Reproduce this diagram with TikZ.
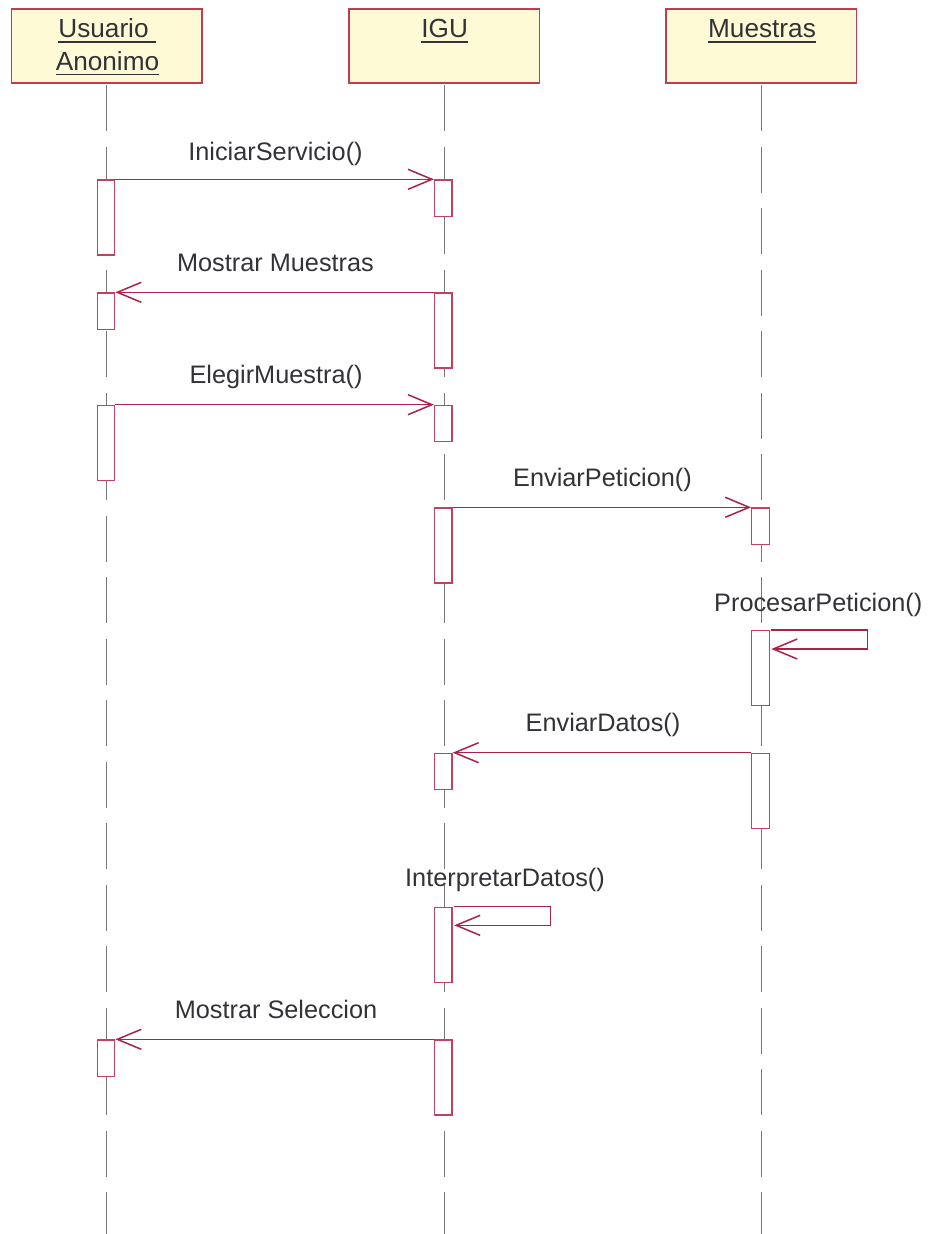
\documentclass[tikz,border=0pt]{standalone}
\usepackage{fontspec}
\setmainfont{Liberation Sans}
\usetikzlibrary{arrows.meta}
\definecolor{boxfill}{RGB}{255,250,214}
\definecolor{boxline}{RGB}{190,60,85}
\definecolor{msgcol}{RGB}{170,35,70}
\definecolor{actline}{RGB}{196,64,96}
\definecolor{lifecol}{RGB}{120,120,120}
\definecolor{textcol}{RGB}{50,50,55}
\begin{document}
\begin{tikzpicture}[x=1pt,y=-1pt,
  head/.style={draw=boxline, fill=boxfill, line width=1.3pt, minimum width=190.4pt, minimum height=74pt, inner sep=0pt, anchor=north west},
  lbl/.style={text=textcol, font=\fontsize{25.3}{30}\selectfont, inner sep=0pt, anchor=base},
  hlbl/.style={lbl, font=\fontsize{26.2}{30}\selectfont},
  lblw/.style={lbl, anchor=base west},
  act/.style={draw=actline, fill=white, line width=1.2pt, minimum width=17.5pt, inner sep=0pt, anchor=north},
  shortact/.style={act, minimum height=36.5pt},
  longact/.style={act, minimum height=75pt},
  msg/.style={draw=msgcol, line width=1.2pt, -{Straight Barb[length=24pt,width=20pt,line width=1.5pt]}},
  lifeline/.style={draw=lifecol, line width=1.3pt, dash pattern=on 46pt off 15.5pt},
  uline/.style={draw=textcol, line width=1.4pt}
]
\useasboundingbox (0,0) rectangle (933,1234);

% header boxes
\node[head] (h1) at (11,8.3) {};
\node[head] (h2) at (348.3,8.3) {};
\node[head] (h3) at (665.3,8.3) {};

\node[hlbl] (t1a) at (107,37) {Usuario\kern7pt};
\node[hlbl] (t1b) at (107.5,70) {Anonimo};
\node[hlbl] (t2) at (444.7,37) {IGU};
\node[hlbl] (t3) at (762,37) {Muestras};
\draw[uline] ([yshift=-5pt]t1a.base west) -- ([yshift=-5pt]t1a.base east);
\draw[uline] ([yshift=-4.5pt]t1b.base west) -- ([yshift=-4.5pt]t1b.base east);
\draw[uline] ([yshift=-5pt]t2.base west) -- ([yshift=-5pt]t2.base east);
\draw[uline] ([yshift=-5pt]t3.base west) -- ([yshift=-5pt]t3.base east);

% lifelines
\coordinate (s1) at (106.7,85);  \coordinate (e1) at (106.7,1234);
\coordinate (s2) at (444.2,85);  \coordinate (e2) at (444.2,1234);
\coordinate (s3) at (761.5,85);  \coordinate (e3) at (761.5,1234);
\draw[lifeline] (s1) -- (e1);
\draw[lifeline] (s2) -- (e2);
\draw[lifeline] (s3) -- (e3);

% activations: Usuario
\node[longact]  (a1) at (106,179.3) {};
\node[shortact] (a2) at (106,292.3) {};
\node[longact]  (a3) at (106,404.7) {};
\node[shortact] (a4) at (106,1039.3) {};
% activations: IGU
\node[shortact] (b1) at (443.3,179.3) {};
\node[longact]  (b2) at (443.3,292.3) {};
\node[shortact] (b3) at (443.3,404.7) {};
\node[longact]  (b4) at (443.3,507.3) {};
\node[shortact] (b5) at (443.3,752.7) {};
\node[longact]  (b6) at (443.3,906.7) {};
\node[longact]  (b7) at (443.3,1039.3) {};
% activations: Muestras
\node[shortact] (c1) at (760.5,507.3) {};
\node[longact]  (c2) at (760.5,630) {};
\node[longact]  (c3) at (760.5,752.7) {};

% messages
\draw[msg] (a1.north east) -- (b1.north west);
\node[lbl] (l1) at (275.5,160) {IniciarServicio()};

\draw[msg] (b2.north west) -- (a2.north east);
\node[lbl] (l2) at (275.5,271) {Mostrar Muestras};

\draw[msg] (a3.north east) -- (b3.north west);
\node[lbl] (l3) at (276,383.5) {ElegirMuestra()};

\draw[msg] (b4.north east) -- (c1.north west);
\node[lbl] (l4) at (602.5,486.7) {EnviarPeticion()};

\draw[msg] ([xshift=1.5pt]c2.north east) -- ++(96.5,0) -- ++(0,19) -- ++(-96.5,0);
\node[lblw] (l5) at (714,611.7) {ProcesarPeticion()};

\draw[msg] (c3.north west) -- (b5.north east);
\node[lbl] (l6) at (603,731.7) {EnviarDatos()};

\draw[msg] ([xshift=1.5pt]b6.north east) -- ++(96.5,0) -- ++(0,18.6) -- ++(-96.5,0);
\node[lblw] (l7) at (405,886) {InterpretarDatos()};

\draw[msg] (b7.north west) -- (a4.north east);
\node[lbl] (l8) at (276,1018) {Mostrar Seleccion};
\end{tikzpicture}
\end{document}
